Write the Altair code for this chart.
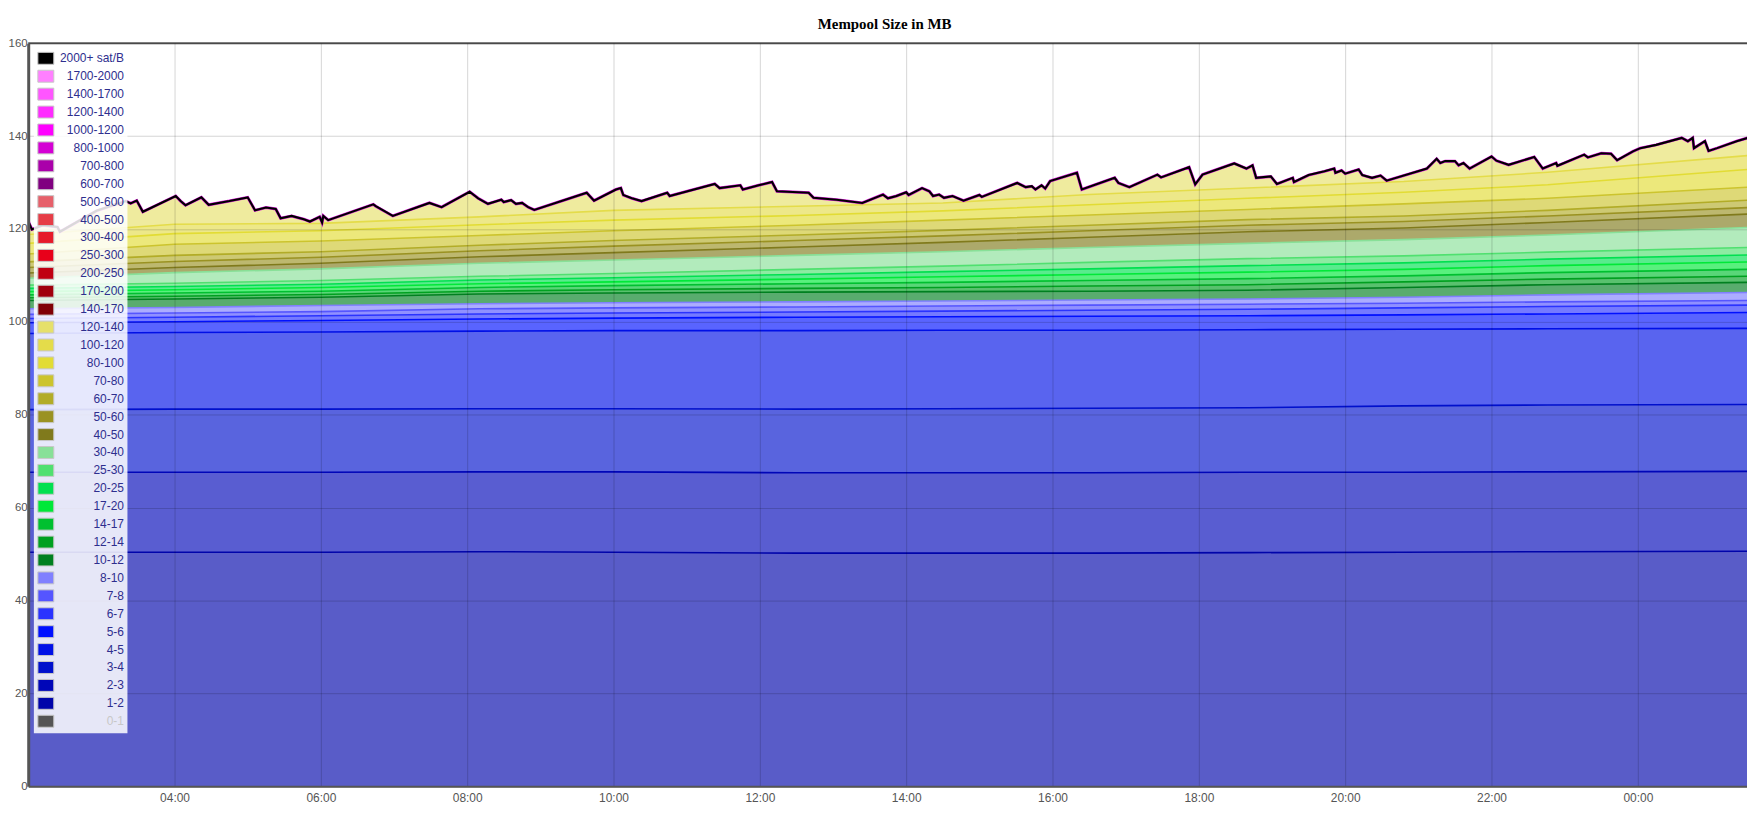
import altair as alt
import pandas as pd

# ---------------- data ----------------
BANDS = ["2000+ sat/B", "1700-2000", "1400-1700", "1200-1400", "1000-1200",
         "800-1000", "700-800", "600-700", "500-600", "400-500", "300-400",
         "250-300", "200-250", "170-200", "140-170", "120-140", "100-120",
         "80-100", "70-80", "60-70", "50-60", "40-50", "30-40", "25-30",
         "20-25", "17-20", "14-17", "12-14", "10-12", "8-10", "7-8", "6-7",
         "5-6", "4-5", "3-4", "2-3", "1-2", "0-1"]
COLORS = ["#000000", "#ff80ff", "#ff55ff", "#ff2aff", "#ff00ff",
          "#d400d4", "#aa00aa", "#800080", "#e6606a", "#e63c46", "#e61a2a",
          "#e8001a", "#c00012", "#a0000c", "#800006", "#e6e06a", "#e4dc4a",
          "#e2dc34", "#ccc42e", "#b2ac28", "#9a9222", "#807a1c", "#88e098", "#50e070",
          "#00e050", "#00e838", "#00c030", "#00a020", "#008020", "#8080ff", "#5555ff", "#2a33ff",
          "#0010ff", "#0010e6", "#0010cc", "#0006b8", "#0004aa", "#555555"]

# total mempool (top of the stack), vertices of the saw-tooth outline
SAW_TIMES = ["02:00", "02:03", "02:12", "02:24", "02:26", "02:56", "03:20", "03:24", "03:29", "03:34",
             "04:01", "04:05", "04:09", "04:22", "04:28", "04:45", "05:00", "05:06", "05:15", "05:23",
             "05:27", "05:36", "05:46", "05:51", "05:59", "06:01", "06:02", "06:06", "06:43", "06:45",
             "06:59", "07:29", "07:39", "08:02", "08:09", "08:17", "08:28", "08:30", "08:36", "08:40",
             "08:45", "08:50", "08:55", "09:38", "09:44", "10:02", "10:06", "10:08", "10:15", "10:23",
             "10:44", "10:46", "11:23", "11:27", "11:44", "11:46", "11:59", "12:10", "12:14", "12:40",
             "12:44", "13:03", "13:24", "13:41", "13:45", "13:52", "14:00", "14:02", "14:13", "14:19",
             "14:22", "14:27", "14:31", "14:38", "14:47", "15:00", "15:02", "15:31", "15:38", "15:43",
             "15:46", "15:51", "15:54", "15:58", "16:20", "16:24", "16:51", "16:54", "17:03", "17:26",
             "17:29", "17:52", "17:57", "18:03", "18:29", "18:39", "18:44", "18:47", "18:59", "19:04",
             "19:17", "19:18", "19:30", "19:43", "19:51", "19:52", "19:57", "20:00", "20:11", "20:14",
             "20:22", "20:29", "20:34", "21:07", "21:15", "21:18", "21:22", "21:30", "21:33", "21:37",
             "21:42", "22:00", "22:04", "22:14", "22:35", "22:42", "22:53", "22:54", "23:16", "23:19",
             "23:30", "23:38", "23:43", "23:56", "00:02", "00:15", "00:36", "00:41", "00:45", "00:46",
             "00:55", "00:58", "01:05", "01:21", "01:30"]
SAW_MB = [121.7, 119.9, 120.8, 120.4, 119.4, 123.9, 126.0, 125.5, 126.1, 123.7,
          127.1, 126.0, 125.1, 126.8, 125.2, 126.0, 126.8, 124.0, 124.6, 124.3,
          122.3, 122.8, 122.1, 121.6, 122.6, 121.4, 122.8, 121.9, 125.3, 124.9,
          122.8, 125.6, 124.7, 128.0, 126.6, 125.4, 126.3, 125.8, 126.2, 125.4,
          125.6, 124.7, 124.1, 127.8, 126.1, 128.5, 128.8, 127.3, 126.6, 126.0,
          127.8, 127.1, 129.7, 128.8, 129.4, 128.5, 129.4, 130.1, 128.1, 127.8,
          126.7, 126.3, 125.6, 127.4, 126.6, 127.1, 127.9, 127.3, 128.8, 128.1,
          127.1, 127.4, 126.7, 127.1, 126.1, 127.3, 126.9, 129.9, 129.0, 129.2,
          128.5, 129.4, 128.7, 130.3, 132.1, 128.5, 131.0, 129.9, 129.0, 131.7,
          131.1, 133.3, 129.6, 131.7, 134.1, 133.0, 133.7, 131.0, 131.3, 129.7,
          131.0, 130.1, 131.6, 132.4, 133.0, 132.1, 132.6, 131.9, 132.8, 131.6,
          131.0, 131.5, 130.4, 133.0, 135.1, 134.2, 134.6, 134.6, 133.7, 134.2,
          133.0, 135.6, 134.7, 133.8, 135.5, 133.0, 134.2, 133.6, 136.0, 135.4,
          136.3, 136.2, 134.8, 136.7, 137.4, 138.1, 139.6, 138.9, 139.6, 137.4,
          138.9, 136.8, 137.4, 138.9, 139.6]

# cumulative size (MB) at the top of each fee band, lowest band first
BAND_TIMES = ["02:00", "04:00", "06:00", "08:10", "10:00", "12:30",
              "14:30", "16:30", "18:40", "20:48", "22:46", "01:30"]
TOP_1_2 = [50.4, 50.4, 50.4, 50.5, 50.4, 50.2, 50.2, 50.2, 50.3, 50.4, 50.5, 50.6]
TOP_2_3 = [67.6, 67.6, 67.6, 67.7, 67.7, 67.5, 67.5, 67.5, 67.6, 67.6, 67.7, 67.8]
TOP_3_4 = [81.1, 81.2, 81.2, 81.3, 81.3, 81.2, 81.3, 81.4, 81.5, 81.9, 82.1, 82.2]
TOP_4_5 = [97.5, 97.7, 97.8, 98.0, 98.1, 98.1, 98.2, 98.2, 98.3, 98.4, 98.5, 98.6]
TOP_5_6 = [99.8, 100.0, 100.3, 100.6, 100.8, 101.0, 101.1, 101.2, 101.3, 101.5, 101.7, 102.0]
TOP_6_7 = [100.7, 101.0, 101.3, 101.7, 101.9, 102.1, 102.3, 102.5, 102.7, 103.0, 103.3, 103.6]
TOP_7_8 = [101.6, 101.9, 102.2, 102.8, 103.0, 103.2, 103.4, 103.6, 103.8, 104.0, 104.3, 104.6]
TOP_8_10 = [102.8, 103.1, 103.5, 103.9, 104.1, 104.3, 104.5, 104.7, 104.9, 105.3, 105.8, 106.3]
TOP_10_12 = [104.6, 104.9, 105.3, 106.0, 106.2, 106.4, 106.5, 106.6, 106.8, 107.4, 108.0, 108.5]
TOP_12_14 = [105.2, 105.5, 105.9, 106.6, 106.9, 107.2, 107.4, 107.7, 108.0, 108.6, 109.2, 109.8]
TOP_14_17 = [105.8, 106.2, 106.6, 107.4, 107.8, 108.2, 108.5, 108.9, 109.3, 109.9, 110.6, 111.3]
TOP_17_20 = [106.5, 106.9, 107.4, 108.2, 108.6, 109.2, 109.7, 110.2, 110.7, 111.3, 112.1, 112.9]
TOP_20_25 = [107.2, 107.6, 108.1, 109.0, 109.5, 110.2, 110.8, 111.4, 112.1, 112.7, 113.5, 114.4]
TOP_25_30 = [107.9, 108.3, 108.9, 109.8, 110.4, 111.3, 112.0, 112.8, 113.6, 114.2, 115.0, 116.0]
TOP_30_40 = [109.4, 110.6, 111.4, 112.6, 113.3, 114.3, 115.1, 116.0, 116.9, 117.7, 118.7, 120.3]
TOP_40_50 = [110.5, 111.7, 112.6, 114.0, 114.9, 116.1, 117.1, 118.2, 119.4, 120.2, 121.4, 123.2]
TOP_50_60 = [111.7, 113.0, 113.9, 115.3, 116.3, 117.5, 118.5, 119.6, 120.8, 121.6, 122.8, 124.6]
TOP_60_70 = [112.9, 114.3, 115.1, 116.5, 117.5, 118.7, 119.7, 120.8, 122.0, 122.8, 124.0, 126.2]
TOP_70_80 = [114.6, 116.7, 117.4, 118.6, 119.6, 120.8, 121.9, 123.0, 124.2, 125.4, 126.6, 129.0]
TOP_80_100 = [116.9, 119.0, 119.6, 120.9, 121.9, 122.9, 123.9, 125.2, 126.6, 127.9, 129.5, 132.8]
TOP_100_120 = [118.8, 121.0, 121.2, 122.6, 124.0, 124.9, 125.6, 127.4, 128.8, 130.2, 132.2, 135.8]

STACK = [("1-2", TOP_1_2), ("2-3", TOP_2_3), ("3-4", TOP_3_4), ("4-5", TOP_4_5),
         ("5-6", TOP_5_6), ("6-7", TOP_6_7), ("7-8", TOP_7_8), ("8-10", TOP_8_10),
         ("10-12", TOP_10_12), ("12-14", TOP_12_14), ("14-17", TOP_14_17),
         ("17-20", TOP_17_20), ("20-25", TOP_20_25), ("25-30", TOP_25_30),
         ("30-40", TOP_30_40), ("40-50", TOP_40_50), ("50-60", TOP_50_60),
         ("60-70", TOP_60_70), ("70-80", TOP_70_80), ("80-100", TOP_80_100),
         ("100-120", TOP_100_120)]

Y_TICKS = [0, 20, 40, 60, 80, 100, 120, 140, 160]
X_TICK_HOURS = [4, 6, 8, 10, 12, 14, 16, 18, 20, 22, 0]


# ---------------- helpers ----------------
def to_ts(times, day0="2023-05-07"):
    out, day, prev = [], 0, -1
    for t in times:
        h, m = map(int, t.split(":"))
        mins = h * 60 + m
        if mins < prev:
            day += 1
        prev = mins
        out.append(pd.Timestamp(day0) + pd.Timedelta(days=day, minutes=mins))
    return out


def blend(hexc, a=0.65):
    rgb = [int(hexc[i:i + 2], 16) for i in (1, 3, 5)]
    return "#%02x%02x%02x" % tuple(round(c * a + 255 * (1 - a)) for c in rgb)


FILLS = [blend(c) for c in COLORS]
STACK_NAMES = [n for n, _ in STACK]
STACK_FILLS = [FILLS[BANDS.index(n)] for n in STACK_NAMES]
STACK_COLORS = [COLORS[BANDS.index(n)] for n in STACK_NAMES]

saw_df = pd.DataFrame({"time": to_ts(SAW_TIMES), "mb": SAW_MB})

rows = []
bt = to_ts(BAND_TIMES)
prev = [0.0] * len(bt)
for name, vals in STACK:
    for t, lo, hi in zip(bt, prev, vals):
        rows.append({"time": t, "band": name, "bottom": lo, "top": hi})
    prev = vals
band_df = pd.DataFrame(rows)

# ---------------- scales / axes ----------------
x_dom = [alt.DateTime(year=2023, month=5, date=7, hours=2),
         alt.DateTime(year=2023, month=5, date=8, hours=1, minutes=29, seconds=30)]
x_vals = [alt.DateTime(year=2023, month=5, date=(8 if h < 2 else 7), hours=h) for h in X_TICK_HOURS]

x_axis = alt.Axis(values=x_vals, format="%H:%M", title=None, grid=True,
                  gridColor="#000000", gridOpacity=0.17, ticks=False, tickSize=0,
                  labelFont="Liberation Sans", labelFontSize=12, labelColor="#555555",
                  labelPadding=6, domainColor="#555555", domainWidth=2, zindex=1,
                  labelFlush=False)
y_axis = alt.Axis(values=Y_TICKS, title=None, grid=True, gridColor="#000000",
                  gridOpacity=0.17, ticks=False, tickSize=0,
                  labelFont="Liberation Sans", labelFontSize=11.5, labelColor="#555555",
                  labelPadding=1, domainColor="#555555", domainWidth=3, zindex=1)

X = alt.X("time:T", scale=alt.Scale(domain=x_dom), axis=x_axis)
y_scale = alt.Scale(domain=[0, 160], nice=False)

saw_area = alt.Chart(saw_df).mark_area(color=FILLS[BANDS.index("120-140")], opacity=1,
                                       clip=True).encode(
    x=X, y=alt.Y("mb:Q", scale=y_scale, axis=y_axis))

band_area = alt.Chart(band_df).mark_area(opacity=1, clip=True).encode(
    x=X, y=alt.Y("top:Q", scale=y_scale, axis=y_axis), y2="bottom:Q",
    fill=alt.Fill("band:N", scale=alt.Scale(domain=STACK_NAMES, range=STACK_FILLS), legend=None))

band_line = alt.Chart(band_df).mark_line(strokeWidth=1.6, clip=True).encode(
    x=X, y=alt.Y("top:Q", scale=y_scale, axis=y_axis),
    stroke=alt.Stroke("band:N", scale=alt.Scale(domain=STACK_NAMES, range=STACK_COLORS), legend=None))

saw_halo = alt.Chart(saw_df).mark_line(color="#d818d8", strokeWidth=3.0, clip=True).encode(
    x=X, y=alt.Y("mb:Q", scale=y_scale, axis=y_axis))
saw_line = alt.Chart(saw_df).mark_line(color="#000000", strokeWidth=2.1, clip=True).encode(
    x=X, y=alt.Y("mb:Q", scale=y_scale, axis=y_axis))

frame = alt.Chart(pd.DataFrame({"edge": [Y_TICKS[-1]]})).mark_rule(
    color="#555555", strokeWidth=2).encode(y=alt.Y("edge:Q", scale=y_scale, axis=y_axis))

SYM = "M-1,-0.75H1V0.75H-1Z"
legend = alt.Legend(orient="none", legendX=5.7, legendY=3.2, title=None,
                    fillColor="rgba(255,255,255,0.85)", padding=3.5,
                    symbolType=SYM, symbolSize=256, symbolStrokeColor="#c8c8c8",
                    symbolStrokeWidth=1, symbolOpacity=1, symbolLimit=60,
                    labelAlign="right", labelOffset=70, labelLimit=200,
                    labelFont="Liberation Sans", labelFontSize=12,
                    labelColor=alt.ExprRef("datum.label == '0-1' ? '#c8c8c8' : '#2e2e8e'"),
                    rowPadding=1, zindex=2)
legend_layer = alt.Chart(pd.DataFrame({"band": BANDS})).mark_point(
    shape=SYM, filled=True, opacity=0, size=256).encode(
    color=alt.Color("band:N", scale=alt.Scale(domain=BANDS, range=COLORS), legend=legend))

chart = alt.layer(saw_area, band_area, band_line, saw_halo, saw_line, frame, legend_layer).properties(
    width=1726.7, height=746.5,
    padding={"left": 20.3, "top": 33.5, "right": 0, "bottom": 17},
    autosize=alt.AutoSizeParams(type="none"),
    title=alt.TitleParams("Mempool Size in MB", font="Liberation Serif", fontSize=15,
                          fontWeight="bold", color="#000000", anchor="middle",
                          frame="group", dx=-3, offset=5),
    background="white",
).configure_view(stroke=None)

chart.save("out.html", embed_options={"renderer": "svg", "actions": False})
